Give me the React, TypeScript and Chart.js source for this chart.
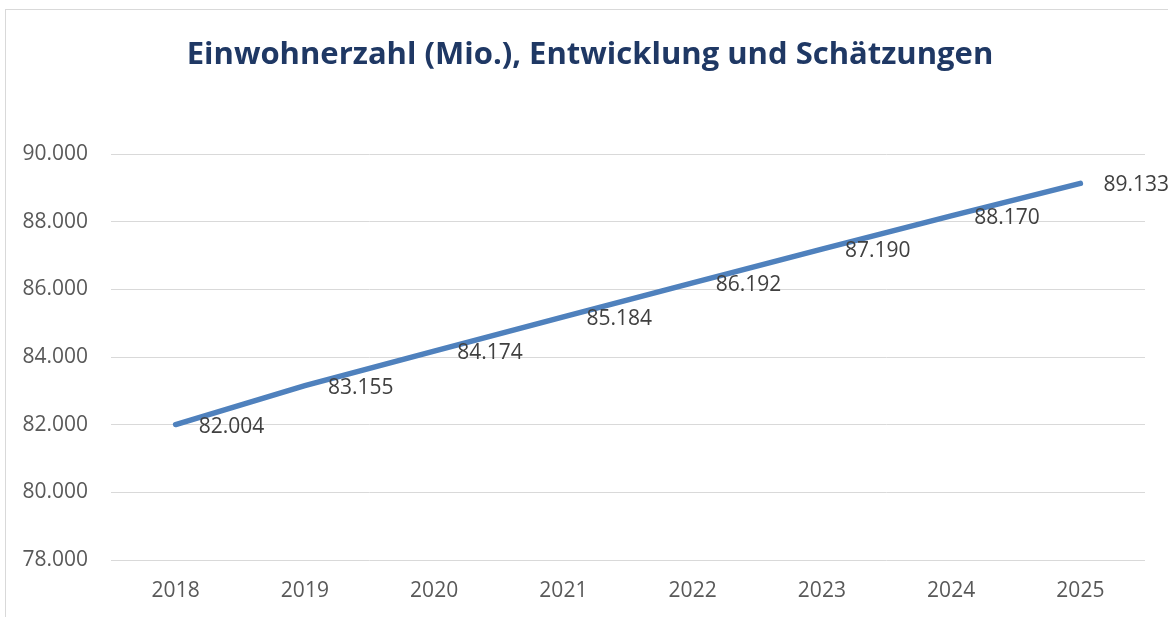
import React, { useEffect, useRef } from "react";
import { Chart, registerables } from "chart.js";

Chart.register(...registerables);

const years = ["2018", "2019", "2020", "2021", "2022", "2023", "2024", "2025"];
const population = [82004, 83155, 84174, 85184, 86192, 87190, 88170, 89133];
const yTicks = [78000, 80000, 82000, 84000, 86000, 88000, 90000];
const titleText = "Einwohnerzahl (Mio.), Entwicklung und Schätzungen";

const FONT = "'Open Sans', 'Noto Sans', sans-serif";

const fmt = (v: number) => {
  const s = Math.round(v).toString();
  return s.replace(/\B(?=(\d{3})+(?!\d))/g, ".");
};

const framePlugin = {
  id: "frame",
  beforeDraw(chart: any) {
    const ctx = chart.ctx;
    ctx.save();
    ctx.fillStyle = "#ffffff";
    ctx.fillRect(0, 0, chart.width, chart.height);
    ctx.strokeStyle = "#d9d9d9";
    ctx.lineWidth = 1;
    ctx.strokeRect(5.5, 9.5, chart.width + 20, chart.height + 20);
    ctx.restore();
  },
  afterDraw(chart: any) {
    const ctx = chart.ctx;
    ctx.save();
    ctx.fillStyle = "#1f3864";
    ctx.font = `bold 31px ${FONT}`;
    ctx.textAlign = "center";
    ctx.textBaseline = "alphabetic";
    ctx.fillText(titleText, 590, 64);
    ctx.restore();
  },
};

const labelPlugin = {
  id: "pointLabels",
  afterDatasetsDraw(chart: any) {
    const ctx = chart.ctx;
    const meta = chart.getDatasetMeta(0);
    const data = chart.data.datasets[0].data as number[];
    ctx.save();
    ctx.fillStyle = "#404040";
    ctx.font = `21px ${FONT}`;
    ctx.textAlign = "left";
    ctx.textBaseline = "middle";
    meta.data.forEach((el: any, i: number) => {
      ctx.fillText(fmt(data[i]), el.x + 23, el.y + 2);
    });
    ctx.restore();
  },
};

export default function App() {
  const ref = useRef<HTMLCanvasElement | null>(null);
  useEffect(() => {
    if (!ref.current) return;
    const chart = new Chart(ref.current, {
      type: "line",
      data: {
        labels: years,
        datasets: [
          {
            data: population,
            borderColor: "#4f81bd",
            borderWidth: 5.5,
            pointRadius: 0,
            pointHoverRadius: 0,
            tension: 0,
            fill: false,
            borderCapStyle: "round",
          },
        ],
      },
      options: {
        responsive: false,
        animation: false,
        layout: { padding: { left: 0, top: 154, right: 23, bottom: 0 } },
        plugins: {
          legend: { display: false },
          title: { display: false },
          tooltip: { enabled: false },
        },
        scales: {
          x: {
            offset: true,
            grid: { display: false, drawTicks: false },
            border: { display: false },
            ticks: {
              color: "#595959",
              font: { family: FONT, size: 21 },
              padding: 18,
              maxRotation: 0,
            },
            afterFit: (s: any) => {
              s.height = 57;
            },
          },
          y: {
            min: 78000,
            max: 90000,
            grid: { color: "#d9d9d9", lineWidth: 1, drawTicks: false },
            border: { display: false },
            afterBuildTicks: (s: any) => {
              s.ticks = yTicks.map((v) => ({ value: v }));
            },
            ticks: {
              color: "#595959",
              font: { family: FONT, size: 21 },
              padding: 23,
              callback: (v: any) => fmt(Number(v)),
            },
            afterFit: (s: any) => {
              s.width = 111;
            },
          },
        },
      },
      plugins: [framePlugin, labelPlugin],
    } as any);
    return () => chart.destroy();
  }, []);
  return (
    <div style={{ position: "absolute", left: 0, top: 0, width: 1168, height: 617 }}>
      <canvas ref={ref} width={1168} height={617} style={{ display: "block" }} />
    </div>
  );
}
